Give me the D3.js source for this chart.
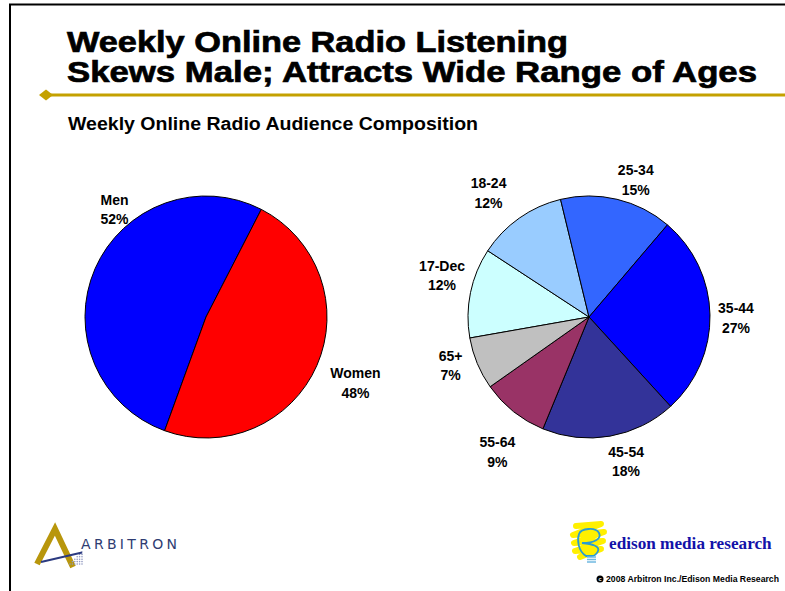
<!DOCTYPE html>
<html>
<head>
<meta charset="utf-8">
<script src="https://cdn.jsdelivr.net/npm/d3@7"></script>
<style>
  body { margin: 0; background: #fff; }
  svg { display: block; font-family: "Liberation Sans", Arial, sans-serif; }
</style>
</head>
<body>
<svg id="chart" width="785" height="591"></svg>
<script>
// Dados
var generoRotulos = ["Men", "Women"];
var generoValores = [52, 48];
var generoCores = ["#0000FF", "#FF0000"];

var idadeRotulos = ["17-Dec", "18-24", "25-34", "35-44", "45-54", "55-64", "65+"];
var idadeValores = [12, 12, 15, 27, 18, 9, 7];
var idadeCores = ["#CCFFFF", "#99CCFF", "#3366FF", "#0000FF", "#333399", "#993366", "#C0C0C0"];

// Ajustes finos dos rótulos (como foram arrastados no original)
var ajusteGenero = [[46, -48], [12, 5]];
var ajusteIdade = [[0, -12], [-14, -2], [12, 8], [-3, 3], [11, -4], [2, 17], [0, -10]];

var svg = d3.select("#chart");
var graus = Math.PI / 180;
const raio = 121,
      raioRotulo = 150,
      entreLinhas = 19.5;

// Moldura
svg.append("path")
    .attr("d", "M10,591 L10,4.5 L785,4.5")
    .attr("fill", "none")
    .attr("stroke", "#000")
    .attr("stroke-width", 2);

// Título
var titulo = svg.append("g")
    .attr("font-weight", "bold")
    .attr("font-size", 30)
    .attr("fill", "#000")
    .attr("stroke", "#000")
    .attr("stroke-width", 0.7);
titulo.append("text").attr("x", 67).attr("y", 52)
    .attr("textLength", 501).attr("lengthAdjust", "spacingAndGlyphs")
    .text("Weekly Online Radio Listening");
titulo.append("text").attr("x", 67).attr("y", 82)
    .attr("textLength", 690).attr("lengthAdjust", "spacingAndGlyphs")
    .text("Skews Male; Attracts Wide Range of Ages");

// Linha dourada com losango
var ouro = "#C4A100";
svg.append("line")
    .attr("x1", 46).attr("x2", 785)
    .attr("y1", 95).attr("y2", 95)
    .attr("stroke", ouro).attr("stroke-width", 3);
svg.append("path")
    .attr("d", "M39,95 L46,89.5 L53,95 L46,100.5 Z")
    .attr("fill", ouro);

// Subtítulo
svg.append("text")
    .attr("x", 68).attr("y", 130)
    .attr("font-weight", "bold")
    .attr("font-size", 17.5)
    .attr("textLength", 410).attr("lengthAdjust", "spacingAndGlyphs")
    .text("Weekly Online Radio Audience Composition");

function desenhaPizza(cx, cy, rotulos, valores, cores, inicio, ajustes) {
  var pizza = d3.pie().sort(null)
      .startAngle(inicio * graus)
      .endAngle((inicio + 360) * graus);
  var arco = d3.arc().innerRadius(0).outerRadius(raio);
  var arcoRotulo = d3.arc().innerRadius(raioRotulo).outerRadius(raioRotulo);
  var fatias = pizza(valores);

  var g = svg.append("g").attr("transform", "translate(" + cx + "," + cy + ")");
  g.selectAll("path")
    .data(fatias)
    .enter().append("path")
      .attr("d", arco)
      .attr("fill", function(d, i) { return cores[i]; })
      .attr("stroke", "#000")
      .attr("stroke-width", 1)
      .attr("stroke-linejoin", "round");

  var rot = g.selectAll("g.rotulo")
    .data(fatias)
    .enter().append("g")
      .attr("class", "rotulo")
      .attr("transform", function(d, i) {
        var c = arcoRotulo.centroid(d);
        return "translate(" + (c[0] + ajustes[i][0]) + "," + (c[1] + ajustes[i][1]) + ")";
      })
      .attr("text-anchor", "middle")
      .attr("font-weight", "bold")
      .attr("font-size", 14);
  rot.append("text").attr("y", -4)
    .text(function(d, i) { return rotulos[i]; });
  rot.append("text").attr("y", -4 + entreLinhas)
    .text(function(d) { return d.value + "%"; });
}

desenhaPizza(206, 317, generoRotulos, generoValores, generoCores, -160, ajusteGenero);
desenhaPizza(589, 317, idadeRotulos, idadeValores, idadeCores, -100, ajusteIdade);

// Logotipo Arbitron
var arb = svg.append("g");
arb.append("path")
    .attr("d", "M37,564 L55,529 L73,567")
    .attr("fill", "none")
    .attr("stroke", "#B8960C")
    .attr("stroke-width", 6)
    .attr("stroke-linejoin", "miter");
var pontos = [];
for (var px = 0; px < 6; px++)
  for (var py = 0; py <= px; py++)
    pontos.push([70 + px * 2.4, 564 - py * 2.4]);
arb.selectAll("circle")
  .data(pontos)
  .enter().append("circle")
    .attr("cx", function(d) { return d[0]; })
    .attr("cy", function(d) { return d[1]; })
    .attr("r", 0.8)
    .attr("fill", "#9098C0");
arb.append("line")
    .attr("x1", 41).attr("y1", 562)
    .attr("x2", 82).attr("y2", 552.5)
    .attr("stroke", "#2B3A80")
    .attr("stroke-width", 2);
arb.append("text")
    .attr("x", 81).attr("y", 548.5)
    .style("font-family", "'DejaVu Sans', sans-serif")
    .attr("font-size", 14)
    .attr("fill", "#2E3C72")
    .attr("textLength", 96).attr("lengthAdjust", "spacing")
    .text("ARBITRON");

// Logotipo Edison
var ed = svg.append("g");
ed.append("path")
    .attr("d", "M576,526 L601,524 L573,535 L604,532 L574,543 L603,541 L575,551 L601,549 L580,557")
    .attr("fill", "none")
    .attr("stroke", "#FFF000")
    .attr("stroke-width", 6)
    .attr("stroke-linejoin", "round")
    .attr("stroke-linecap", "round");
ed.append("path")
    .attr("d", "M586,556 C578,551 577,540 579,534 C581,528 596,527 599,533 C602,539 594,543 582,543 C592,544 600,546 598,551 C597,554 594,556 592,556 Z")
    .attr("fill", "none")
    .attr("stroke", "#2A9CD0")
    .attr("stroke-width", 1.8);
[557, 559.5, 562].forEach(function(y) {
  ed.append("line")
      .attr("x1", 587).attr("x2", 596)
      .attr("y1", y).attr("y2", y)
      .attr("stroke", "#6FB8E0")
      .attr("stroke-width", 1.5);
});
ed.append("text")
    .attr("x", 609).attr("y", 549)
    .style("font-family", "'Liberation Serif', 'Times New Roman', serif")
    .attr("font-weight", "bold")
    .attr("font-size", 17.2)
    .attr("fill", "#1212A8")
    .text("edison media research");

// Direitos
svg.append("circle")
    .attr("cx", 600).attr("cy", 579)
    .attr("r", 3.5)
    .attr("fill", "#000");
svg.append("text")
    .attr("x", 600).attr("y", 581)
    .attr("text-anchor", "middle")
    .attr("font-size", 5.5)
    .attr("font-weight", "bold")
    .attr("fill", "#fff")
    .text("c");
svg.append("text")
    .attr("x", 606).attr("y", 582)
    .attr("font-size", 9)
    .attr("font-weight", "bold")
    .attr("textLength", 173).attr("lengthAdjust", "spacingAndGlyphs")
    .text("2008 Arbitron Inc./Edison Media Research");
</script>
</body>
</html>
